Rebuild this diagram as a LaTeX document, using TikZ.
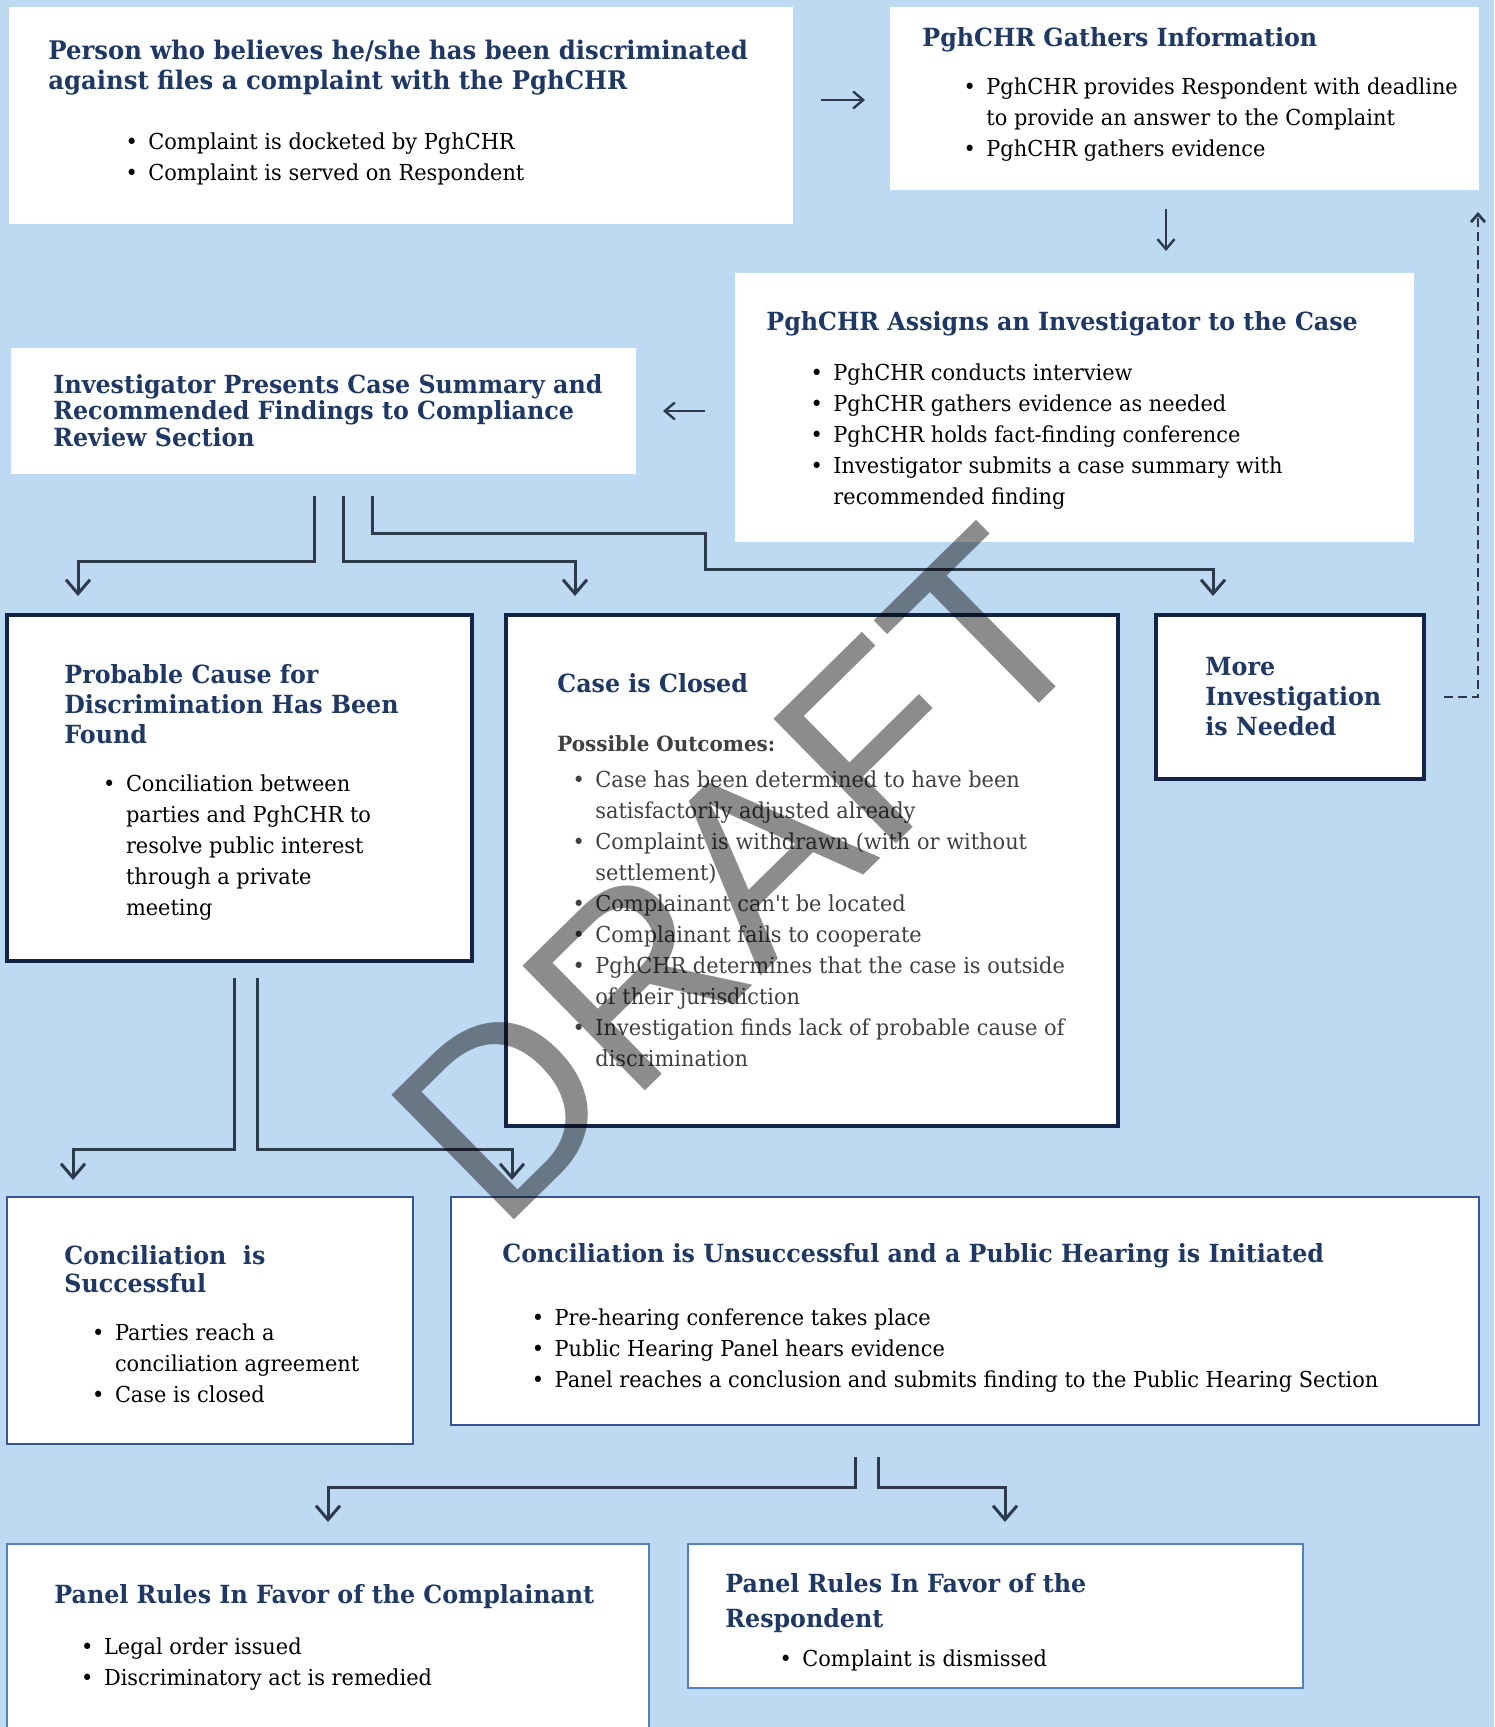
\documentclass[tikz,border=0pt]{standalone}
\usepackage{fontspec}
\setmainfont{DejaVu Serif}
\newfontfamily\srf[FakeStretch=0.95]{DejaVu Serif}
\newfontfamily\wmfont{Liberation Sans}
\usetikzlibrary{arrows.meta}

\definecolor{bgblue}{RGB}{189,218,242}
\definecolor{navy}{RGB}{31,56,100}
\definecolor{frame}{RGB}{20,36,72}
\definecolor{edgeblue}{RGB}{52,86,150}
\definecolor{lightedge}{RGB}{84,128,192}
\definecolor{slate}{RGB}{44,58,76}
\definecolor{greytxt}{RGB}{64,64,64}

\newcommand\bitem{\makebox[11.4pt][l]{\textbullet}}
\newcommand\bcont{\hspace*{11.4pt}}

\begin{document}
\begin{tikzpicture}[
  x=0.5pt, y=-0.5pt,
  plainbox/.style={fill=white, anchor=north west, inner sep=0pt, outer sep=0pt},
  darkbox/.style={plainbox, draw=frame, line width=1.8pt},
  bluebox/.style={plainbox, draw=edgeblue, line width=1pt},
  ttl/.style={anchor=base west, inner sep=0pt, align=left, text=navy, font=\srf\bfseries\fontsize{12.5}{15}\selectfont},
  lst/.style={anchor=base west, inner sep=0pt, align=left, font=\srf\fontsize{11}{15.5}\selectfont},
  conn/.style={draw=slate, line width=1.5pt, -{Straight Barb[length=7pt,width=12pt]}},
  glyph/.style={draw=slate, line width=1.2pt, -{Straight Barb[length=5pt,width=8.5pt]}},
  back/.style={draw=slate, line width=1.4pt, dash pattern=on 4.5pt off 2.5pt, -{Straight Barb[length=4pt,width=7pt]}},
  wm/.style={font=\wmfont\fontsize{127}{127}\selectfont, text=black, text opacity=0.45, rotate=44.5, inner sep=0pt}
]
\useasboundingbox (0,0) rectangle (1494,1727);
\fill[bgblue] (0,0) rectangle (1494,1727);

% boxes
\node[plainbox, minimum width=392pt, minimum height=108.5pt] (file) at (9,7) {};
\node[plainbox, minimum width=294.5pt, minimum height=91.5pt] (gather) at (890,7) {};
\node[plainbox, minimum width=339.5pt, minimum height=134.5pt] (assign) at (735,273) {};
\node[plainbox, minimum width=312.5pt, minimum height=63pt] (present) at (11,348) {};
\node[darkbox, minimum width=232.5pt, minimum height=173pt] (cause) at (7,615) {};
\node[darkbox, minimum width=306pt, minimum height=255.5pt] (closed) at (506,615) {};
\node[darkbox, minimum width=134pt, minimum height=82pt] (more) at (1156,615) {};
\node[bluebox, minimum width=203pt, minimum height=123.5pt] (success) at (7,1197) {};
\node[bluebox, minimum width=514pt, minimum height=114pt] (hearing) at (451,1197) {};
\node[bluebox, draw=lightedge, minimum width=321pt, minimum height=100pt] (favc) at (7,1544) {};
\node[bluebox, draw=lightedge, minimum width=307.5pt, minimum height=72pt] (favr) at (688,1544) {};

% texts (base = last line)
\node[ttl, font=\srf\bfseries\fontsize{12.8}{15}\selectfont] (file-t) at (48,90) {Person who believes he/she has been discriminated\\against files a complaint with the PghCHR};
\node[lst] (file-l) at (125.2,181) {\bitem Complaint is docketed by PghCHR\\\bitem Complaint is served on Respondent};

\node[ttl] (gather-t) at (922,47) {PghCHR Gathers Information};
\node[lst] (gather-l) at (963.2,157) {\bitem PghCHR provides Respondent with deadline\\\bcont to provide an answer to the Complaint\\\bitem PghCHR gathers evidence};

\node[ttl] (assign-t) at (766,331) {PghCHR Assigns an Investigator to the Case};
\node[lst] (assign-l) at (810.2,504.5) {\bitem PghCHR conducts interview\\\bitem PghCHR gathers evidence as needed\\\bitem PghCHR holds fact-finding conference\\\bitem Investigator submits a case summary with\\\bcont recommended finding};

\node[ttl, font=\srf\bfseries\fontsize{12.5}{13.2}\selectfont] (present-t) at (53,446.3) {Investigator Presents Case Summary and\\Recommended Findings to Compliance\\Review Section};

\node[ttl] (cause-t) at (64,743.5) {Probable Cause for\\Discrimination Has Been\\Found};
\node[lst] (cause-l) at (102.8,915) {\bitem Conciliation between\\\bcont parties and PghCHR to\\\bcont resolve public interest\\\bcont through a private\\\bcont meeting};

\node[ttl] (closed-t) at (557,692) {Case is Closed};
\node[ttl, text=greytxt, font=\srf\bfseries\fontsize{10.5}{15}\selectfont] (closed-s) at (557,751) {Possible Outcomes:};
\node[lst, text=greytxt] (closed-l) at (572.2,1066) {\bitem Case has been determined to have been\\\bcont satisfactorily adjusted already\\\bitem Complaint is withdrawn (with or without\\\bcont settlement)\\\bitem Complainant can't be located\\\bitem Complainant fails to cooperate\\\bitem PghCHR determines that the case is outside\\\bcont of their jurisdiction\\\bitem Investigation finds lack of probable cause of\\\bcont discrimination};

\node[ttl] (more-t) at (1205,735.5) {More\\Investigation\\is Needed};

\node[ttl, font=\srf\bfseries\fontsize{12.5}{14.3}\selectfont] (success-t) at (64,1292.6) {Conciliation~~is\\Successful};
\node[lst] (success-l) at (91.8,1402) {\bitem Parties reach a\\\bcont conciliation agreement\\\bitem Case is closed};

\node[ttl] (hearing-t) at (502,1262) {Conciliation is Unsuccessful and a Public Hearing is Initiated};
\node[lst, font=\srf\fontsize{11}{15.7}\selectfont] (hearing-l) at (531.4,1387.8) {\bitem Pre-hearing conference takes place\\\bitem Public Hearing Panel hears evidence\\\bitem Panel reaches a conclusion and submits finding to the Public Hearing Section};

\node[ttl] (favc-t) at (54,1603.5) {Panel Rules In Favor of the Complainant};
\node[lst] (favc-l) at (80.8,1685) {\bitem Legal order issued\\\bitem Discriminatory act is remedied};

\node[ttl, font=\srf\bfseries\fontsize{12.5}{17.65}\selectfont] (favr-t) at (725,1627.8) {Panel Rules In Favor of the\\Respondent};
\node[lst] (favr-l) at (779.2,1666) {\bitem Complaint is dismissed};

% connectors
\draw[glyph, shorten <=14pt, shorten >=12.5pt] ([shift={(0,-15.5)}]file.east) -- ([shift={(0,-15.5)}]file.east -| gather.west);
\draw[glyph, shorten <=9.5pt, shorten >=11pt] ([shift={(-18.5,0)}]gather.south) -- ([shift={(-18.5,0)}]gather.south |- assign.north);
\draw[glyph, shorten <=15pt, shorten >=13.5pt] (assign.west |- present.east) -- (present.east);
\draw[back, shorten <=10pt, shorten >=11pt] (more.east) -| ([shift={(-1,0)}]gather.south east);

\draw[conn, shorten <=11pt, shorten >=9.5pt] ([shift={(-9.5,0)}]present.south) -- ++(0,87) -| ([shift={(-161.5,0)}]cause.north);
\draw[conn, shorten <=11pt, shorten >=9.5pt] ([shift={(19.5,0)}]present.south) -- ++(0,87) -| ([shift={(-237,0)}]closed.north);
\draw[conn, shorten <=11pt, shorten >=9.5pt] ([shift={(48.5,0)}]present.south) -- ++(0,59) -| ++(333,36) -| ([shift={(-77,0)}]more.north);

\draw[conn, shorten <=8.5pt, shorten >=8.5pt] ([shift={(-5.5,0)}]cause.south) -- ++(0,188) -| ([shift={(-137,0)}]success.north);
\draw[conn, shorten <=8.5pt, shorten >=8.5pt] ([shift={(17.5,0)}]cause.south) -- ++(0,188) -| ([shift={(-453,0)}]hearing.north);

\draw[conn, shorten <=16pt, shorten >=11pt] ([shift={(-110,0)}]hearing.south) -- ++(0,62) -| (favc.north);
\draw[conn, shorten <=16pt, shorten >=11pt] ([shift={(-87,0)}]hearing.south) -- ++(0,62) -| ([shift={(9.5,0)}]favr.north);

% watermark
\node[wm] (draft) at (740,875) {DRAFT};
\end{tikzpicture}
\end{document}
